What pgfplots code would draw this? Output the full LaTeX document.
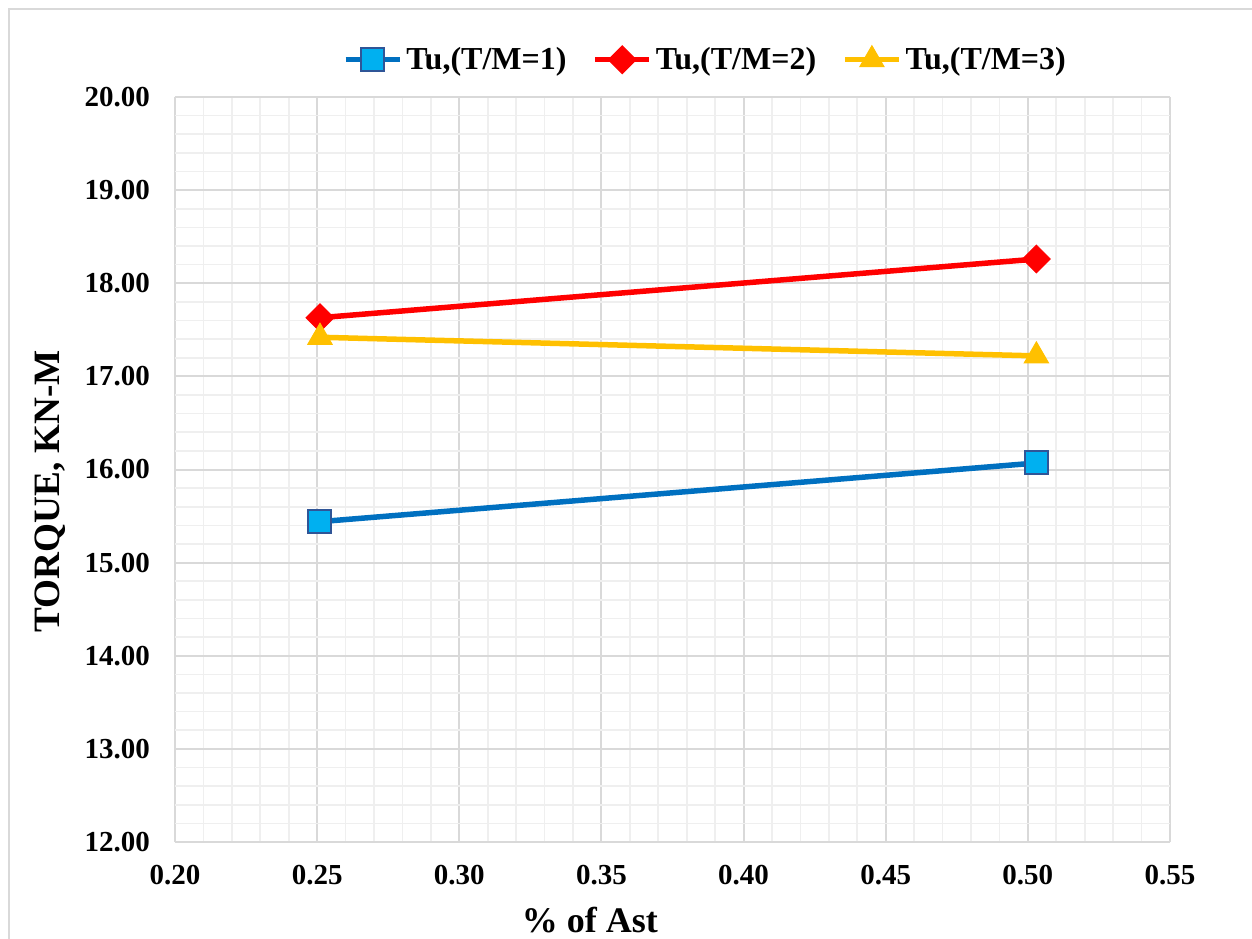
\documentclass[border=0pt]{standalone}
\usepackage{fontspec}
\setmainfont{Liberation Serif}
\usepackage{pgfplots}
\pgfplotsset{compat=1.18}
\definecolor{majg}{HTML}{D9D9D9}
\definecolor{ming}{HTML}{EFEFEF}
\definecolor{bline}{HTML}{0070C0}
\definecolor{bfill}{HTML}{00B0F0}
\definecolor{bedge}{HTML}{2F5597}
\definecolor{rline}{HTML}{FF0000}
\definecolor{yline}{HTML}{FFC000}
\begin{document}
\begin{tikzpicture}
\useasboundingbox (-87.5pt,-48pt) rectangle (538.5pt,421pt);
\draw[majg, line width=1pt] (-83pt,-70pt) -- (-83pt,416.5pt) -- (560pt,416.5pt);
\begin{axis}[
  scale only axis,
  width=497.5pt, height=372.5pt,
  xmin=0.20, xmax=0.55, ymin=12, ymax=20,
  xtick={0.20,0.25,...,0.55},
  ytick={12,13,...,20},
  minor tick num=4,
  grid=both,
  major grid style={majg, line width=1pt},
  minor grid style={ming, line width=0.8pt},
  axis line style={draw=none},
  major tick length=0pt, minor tick length=0pt,
  /pgf/number format/.cd, fixed, fixed zerofill, precision=2, assume math mode=true, /pgfplots/.cd,
  tick label style={font=\fontsize{14.5}{17}\selectfont\bfseries},
  yticklabel style={xshift=-9pt},
  xticklabel style={yshift=-8pt},
  xlabel={\% of Ast},
  ylabel={TORQUE, KN-M},
  xlabel style={at={(axis description cs:0.417,-0.1047)}, anchor=center, font=\fontsize{18}{21}\selectfont\bfseries},
  ylabel style={at={(axis description cs:-0.1256,0.471)}, anchor=center, font=\fontsize{18.6}{21}\selectfont\bfseries},
  legend columns=3,
  legend style={at={(axis description cs:0.534,1.05)}, anchor=center, draw=none, fill=none,
    font=\fontsize{16}{19}\selectfont\bfseries, /tikz/every even column/.append style={column sep=11pt}},
  legend image code/.code={\draw[mark repeat=2,mark phase=2,#1] plot coordinates {(0pt,0pt) (13.5pt,0pt) (27pt,0pt)};},
]
\addplot[bline, line width=2.75pt, mark=square*, mark size=5.75pt, mark options={fill=bfill, draw=bedge, line width=1pt}]
  coordinates {(0.251,15.44) (0.503,16.07)};
\addlegendentry{Tu,(T/M=1)}
\addplot[rline, line width=2.75pt, mark=square*, mark size=4.9pt, mark options={fill=rline, draw=rline, line width=0.5pt, rotate=45}]
  coordinates {(0.251,17.63) (0.503,18.26)};
\addlegendentry{Tu,(T/M=2)}
\addplot[yline, line width=2.75pt, mark=triangle*, mark size=7pt, mark options={fill=yline, draw=yline, line width=0.5pt}]
  coordinates {(0.251,17.42) (0.503,17.22)};
\addlegendentry{Tu,(T/M=3)}
\end{axis}
\end{tikzpicture}
\end{document}
